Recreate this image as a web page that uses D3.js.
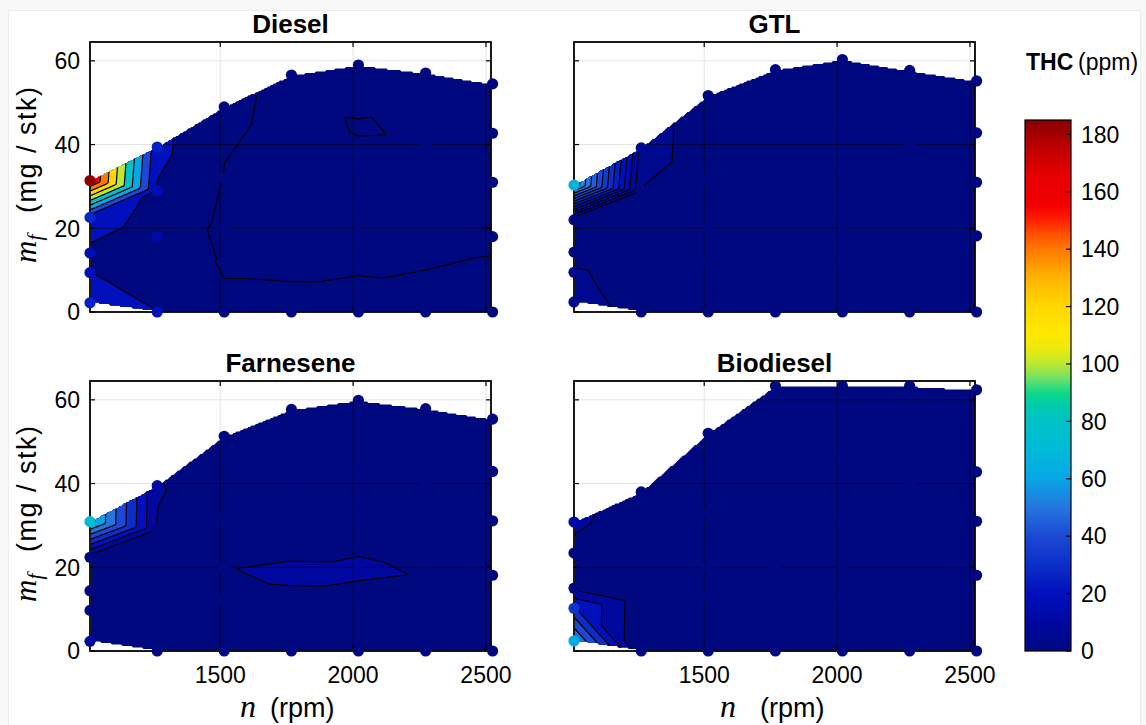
<!DOCTYPE html>
<html><head><meta charset="utf-8">
<script src="https://cdn.jsdelivr.net/npm/d3@7/dist/d3.min.js"></script>
<style>
html,body{margin:0;padding:0;background:#fff;}
svg{display:block;}
text{font-family:"Liberation Sans",Arial,Helvetica,sans-serif;fill:#000;}
</style></head>
<body>
<svg id="chart" width="1146" height="725"></svg>
<script>
// ---------------- data: [speed n (rpm), fuel mf (mg/stk), THC (ppm)] ----------------
const fuelNames = ["Diesel", "GTL", "Farnesene", "Biodiesel"];

const dieselData = [
  [1010, 2.2, 26], [1010, 9.4, 20.3], [1010, 14.1, 17], [1010, 22.6, 28], [1010, 31.4, 185],
  [1263, 0, 20.3], [1263, 11.8, 10], [1263, 18, 12], [1263, 29, 18], [1263, 39.4, 26],
  [1515, 0, 3], [1515, 12, -1.5], [1515, 20, -4], [1515, 32, -0.5], [1515, 49, 2],
  [1768, 0, 3], [1768, 12, -2], [1768, 18, -2.5], [1768, 25, -3], [1768, 38, -3], [1768, 56.6, -2],
  [2020, 0, 3], [2020, 13, -1.5], [2020, 19, -2], [2020, 25, -2], [2020, 34, -2], [2020, 44, 0.5], [2020, 59, -3],
  [2273, 0, 2.5], [2273, 18, -2], [2273, 25, -2], [2273, 40, -0.7], [2273, 57.1, -2],
  [2525, 0, 3], [2525, 18, -1], [2525, 31, -1.5], [2525, 42.7, -1.5], [2525, 54.5, -1.5]
];
const gtlData = [
  [1010, 2.4, 7], [1010, 9.5, 5.8], [1010, 14.3, 2], [1010, 22, 0], [1010, 30.3, 65],
  [1263, 0, 3.4], [1263, 12, 2], [1263, 18, 2.5], [1263, 29, 4.8], [1263, 39.2, 8],
  [1515, 0, 2], [1515, 12, 1.5], [1515, 20, 1.5], [1515, 32, 1.5], [1515, 51.7, 1.9],
  [1768, 0, 1.5], [1768, 12, 1], [1768, 18, 1], [1768, 25, 1], [1768, 38, 1], [1768, 57.9, 1.2],
  [2020, 0, 1.5], [2020, 13, 1], [2020, 19, 1], [2020, 25, 1], [2020, 34, 1], [2020, 44, 1], [2020, 60.3, 1],
  [2273, 0, 1.5], [2273, 18, 1], [2273, 25, 1], [2273, 40, 1], [2273, 57.7, 1],
  [2525, 0, 1.5], [2525, 18.2, 1], [2525, 31, 1], [2525, 42.8, 1], [2525, 55.2, 1]
];
const farneseneData = [
  [1010, 2.3, 10.3], [1010, 9.7, 5], [1010, 14.4, 4.5], [1010, 22.4, 5], [1010, 30.9, 75],
  [1263, 0, 5], [1263, 12, 7], [1263, 18, 8], [1263, 29, 9.5], [1263, 39.5, 10.5],
  [1515, 0, 5], [1515, 12, 8], [1515, 20, 9.8], [1515, 32, 7], [1515, 51.3, 4],
  [1768, 0, 5], [1768, 12, 8.5], [1768, 18, 11], [1768, 25, 9], [1768, 38, 7], [1768, 57.7, 5],
  [2020, 0, 5], [2020, 13, 9], [2020, 19, 10.6], [2020, 25, 9.6], [2020, 34, 8], [2020, 44, 7], [2020, 59.9, 5],
  [2273, 0, 5], [2273, 18, 9.8], [2273, 25, 9], [2273, 40, 7], [2273, 57.9, 5],
  [2525, 0, 5], [2525, 18.1, 8.5], [2525, 31.1, 7], [2525, 42.9, 6], [2525, 55.4, 5]
];
const biodieselData = [
  [1010, 2.4, 62], [1010, 10.2, 32], [1010, 15, 8], [1010, 23.4, 7], [1010, 30.8, 12],
  [1263, 0, 2.5], [1263, 12.6, 3], [1263, 17.6, 3], [1263, 29.4, 4], [1263, 38, 5.7],
  [1515, 0, 2], [1515, 13, 2], [1515, 20, 2], [1515, 33, 2.5], [1515, 52, 3],
  [1768, 0, 2], [1768, 13, 2], [1768, 20, 2], [1768, 30, 2], [1768, 45, 2], [1768, 63.3, 2],
  [2020, 0, 2], [2020, 13, 2], [2020, 20, 2], [2020, 30, 2], [2020, 45, 2], [2020, 63.3, 2],
  [2273, 0, 2], [2273, 18, 2], [2273, 25, 2], [2273, 40, 2], [2273, 63.3, 2],
  [2525, 0, 2], [2525, 18.1, 2], [2525, 31, 2], [2525, 42.8, 2], [2525, 62.4, 2]
];

const dieselLevels = [0, 20, 40, 60, 80, 100, 120, 140, 160, 180];
const gtlLevels = [5, 10, 15, 20, 25, 30, 35, 40, 45, 50, 55, 60];
const farneseneLevels = [10, 20, 30, 40, 50, 60, 70];
const biodieselLevels = [10, 20, 30, 40, 50];

const xTicks = [1500, 2000, 2500];
const yTicks = [0, 20, 40, 60];
const cbTicks = [0, 20, 40, 60, 80, 100, 120, 140, 160, 180];

const cbStopValues = [0, 10, 20, 30, 40, 50, 60, 70, 80, 86, 90, 95, 100, 105, 110, 120, 130, 140, 146, 150, 155, 165, 175, 185];
const cbStopColors = ["#000880", "#0008a0", "#0010bc", "#0c2ec8", "#1c48d4", "#2476de", "#08a6e6", "#00bad8",
  "#00c2c8", "#00cca8", "#10d888", "#70e068", "#bce830", "#e8ea10", "#ffe800", "#ffd800", "#ffb400",
  "#ff7800", "#ff4a00", "#ff2000", "#f40000", "#e80000", "#c00000", "#880000"];

// ---------------- layout ----------------
const svg = d3.select("#chart");
const PW = 401, PH = 270;
const xDomain = [1010, 2519], yDomain = [0, 64.5], cbDomain = [0, 185];
const xScale = d3.scaleLinear().domain(xDomain).range([0, PW]);
const yScale = d3.scaleLinear().domain(yDomain).range([PH, 0]);
const cmap = d3.scaleLinear().domain(cbStopValues).range(cbStopColors).interpolate(d3.interpolateRgb).clamp(true);

const panels = [
  {title: fuelNames[0], data: dieselData, levels: dieselLevels, x: 90, y: 42, showY: true, showX: false},
  {title: fuelNames[1], data: gtlData, levels: gtlLevels, x: 574, y: 42, showY: false, showX: false},
  {title: fuelNames[2], data: farneseneData, levels: farneseneLevels, x: 90, y: 381, showY: true, showX: true, nX: 150, rX: 180},
  {title: fuelNames[3], data: biodieselData, levels: biodieselLevels, x: 574, y: 381, showY: false, showX: true, nX: 146, rX: 186}
];

// page frame
svg.append("rect").attr("width", 1146).attr("height", 725).attr("fill", "#f8f8f8");
svg.append("rect").attr("x", 8.5).attr("y", 10.5).attr("width", 1132).attr("height", 730)
  .attr("fill", "#fff").attr("stroke", "#ececec");

const defs = svg.append("defs");
const S = 1.5, M = 8;

function extend(grid, nx, ny) {
  let cur = Float64Array.from(grid);
  for (let pass = 0; pass < 600; pass++) {
    const next = Float64Array.from(cur);
    let any = false, remaining = false;
    for (let j = 0; j < ny; j++) for (let i = 0; i < nx; i++) {
      const k = j * nx + i;
      if (!isNaN(cur[k])) continue;
      let s = 0, c = 0;
      if (i > 0 && !isNaN(cur[k - 1])) { s += cur[k - 1]; c++; }
      if (i < nx - 1 && !isNaN(cur[k + 1])) { s += cur[k + 1]; c++; }
      if (j > 0 && !isNaN(cur[k - nx])) { s += cur[k - nx]; c++; }
      if (j < ny - 1 && !isNaN(cur[k + nx])) { s += cur[k + nx]; c++; }
      if (c) { next[k] = s / c; any = true; } else remaining = true;
    }
    cur = next;
    if (!remaining || !any) break;
  }
  return cur;
}

panels.forEach((p, idx) => {
  const g = svg.append("g").attr("transform", `translate(${p.x},${p.y})`);
  const pts = p.data.map(d => [xScale(d[0]), yScale(d[1])]);
  const vals = p.data.map(d => d[2]);

  // envelope of the measured map (outer boundary through the outermost points)
  const cols = d3.groups(p.data.map((d, i) => ({n: d[0], m: d[1], i})), d => d.n)
    .sort((a, b) => a[0] - b[0]).map(c => c[1].sort((a, b) => a.m - b.m));
  const env = [];
  cols[0].forEach(d => env.push(pts[d.i]));
  for (let k = 1; k < cols.length - 1; k++) env.push(pts[cols[k][cols[k].length - 1].i]);
  cols[cols.length - 1].slice().reverse().forEach(d => env.push(pts[d.i]));
  for (let k = cols.length - 2; k >= 1; k--) env.push(pts[cols[k][0].i]);

  // linear interpolation on Delaunay triangles
  const delaunay = d3.Delaunay.from(pts);
  const tri = delaunay.triangles;
  const nx = Math.ceil((PW + 2 * M) / S) + 1, ny = Math.ceil((PH + 2 * M) / S) + 1;
  const grid = new Float64Array(nx * ny).fill(NaN);
  for (let t = 0; t < tri.length; t += 3) {
    const a = tri[t], b = tri[t + 1], c = tri[t + 2];
    const [x1, y1] = pts[a], [x2, y2] = pts[b], [x3, y3] = pts[c];
    const cx = (x1 + x2 + x3) / 3, cy = (y1 + y2 + y3) / 3;
    if (!d3.polygonContains(env, [cx, cy])) continue;
    const det = (y2 - y3) * (x1 - x3) + (x3 - x2) * (y1 - y3);
    if (Math.abs(det) < 1e-9) continue;
    const i0 = Math.max(0, Math.floor((Math.min(x1, x2, x3) + M) / S));
    const i1 = Math.min(nx - 1, Math.ceil((Math.max(x1, x2, x3) + M) / S));
    const j0 = Math.max(0, Math.floor((Math.min(y1, y2, y3) + M) / S));
    const j1 = Math.min(ny - 1, Math.ceil((Math.max(y1, y2, y3) + M) / S));
    for (let j = j0; j <= j1; j++) for (let i = i0; i <= i1; i++) {
      const px = -M + i * S, py = -M + j * S;
      const l1 = ((y2 - y3) * (px - x3) + (x3 - x2) * (py - y3)) / det;
      const l2 = ((y3 - y1) * (px - x3) + (x1 - x3) * (py - y3)) / det;
      const l3 = 1 - l1 - l2;
      if (l1 >= -1e-7 && l2 >= -1e-7 && l3 >= -1e-7) grid[j * nx + i] = l1 * vals[a] + l2 * vals[b] + l3 * vals[c];
    }
  }
  const fillGrid = Float64Array.from(grid, v => isNaN(v) ? -1e9 : v);
  const lineGrid = extend(grid, nx, ny);

  const proj = d3.geoIdentity().scale(S).translate([-M - 0.5 * S, -M - 0.5 * S]);
  const path = d3.geoPath(proj);
  const fillC = d3.contours().size([nx, ny]).thresholds([-1e6, ...p.levels])(fillGrid);
  const lineC = d3.contours().size([nx, ny]).thresholds(p.levels)(lineGrid);

  defs.append("clipPath").attr("id", "rect" + idx).append("rect").attr("width", PW).attr("height", PH);
  defs.append("clipPath").attr("id", "hull" + idx).append("path").attr("d", path(fillC[0]));

  // light grid (under fill)
  const gridG = g.append("g").attr("stroke", "#e4e4e4").attr("stroke-width", 1);
  xTicks.forEach(t => gridG.append("line").attr("x1", xScale(t)).attr("x2", xScale(t)).attr("y1", 0).attr("y2", PH));
  yTicks.slice(1).forEach(t => gridG.append("line").attr("y1", yScale(t)).attr("y2", yScale(t)).attr("x1", 0).attr("x2", PW));

  const clipped = g.append("g").attr("clip-path", `url(#rect${idx})`);
  clipped.selectAll("path.band").data(fillC).join("path").attr("class", "band")
    .attr("d", d => path(d))
    .attr("fill", (d, i) => cmap(i === 0 ? 0 : d.value))
    .attr("fill-rule", "evenodd");

  const inner = clipped.append("g").attr("clip-path", `url(#hull${idx})`);
  const dg = inner.append("g").attr("stroke", "#000").attr("stroke-opacity", 0.55).attr("stroke-width", 1);
  xTicks.forEach(t => dg.append("line").attr("x1", xScale(t)).attr("x2", xScale(t)).attr("y1", 0).attr("y2", PH));
  yTicks.slice(1).forEach(t => dg.append("line").attr("y1", yScale(t)).attr("y2", yScale(t)).attr("x1", 0).attr("x2", PW));
  inner.selectAll("path.iso").data(lineC).join("path").attr("class", "iso")
    .attr("d", d => path(d)).attr("fill", "none").attr("stroke", "#000").attr("stroke-width", 1.2)
    .attr("stroke-linejoin", "round");

  // axes box + ticks
  const tk = g.append("g").attr("stroke", "#000").attr("stroke-width", 1.2);
  xTicks.forEach(t => {
    tk.append("line").attr("x1", xScale(t)).attr("x2", xScale(t)).attr("y1", PH).attr("y2", PH - 5);
    tk.append("line").attr("x1", xScale(t)).attr("x2", xScale(t)).attr("y1", 0).attr("y2", 5);
  });
  yTicks.forEach(t => {
    tk.append("line").attr("y1", yScale(t)).attr("y2", yScale(t)).attr("x1", 0).attr("x2", 5);
    tk.append("line").attr("y1", yScale(t)).attr("y2", yScale(t)).attr("x1", PW).attr("x2", PW - 5);
  });
  g.append("rect").attr("width", PW).attr("height", PH).attr("fill", "none").attr("stroke", "#000").attr("stroke-width", 1.8);

  // title
  g.append("text").attr("x", PW / 2).attr("y", -9).attr("text-anchor", "middle")
    .attr("font-size", 26).attr("font-weight", "bold").text(p.title);

  if (p.showY) {
    yTicks.forEach(t => g.append("text").attr("x", -10).attr("y", yScale(t)).attr("dy", "0.36em")
      .attr("text-anchor", "end").attr("font-size", 23).text(t));
    const yl = svg.append("g").attr("transform", `translate(36,${p.y + PH / 2}) rotate(-90)`);
    yl.append("text").attr("x", -86).attr("y", 0)
      .style("font-family", "'Liberation Serif','Times New Roman',serif").style("font-style", "italic")
      .attr("font-size", 31).text("m")
      .append("tspan").attr("font-size", 21).attr("dy", 6).text("f");
    yl.append("text").attr("x", -36).attr("y", 0).attr("font-size", 27)
      .attr("textLength", 126).attr("lengthAdjust", "spacing").text("(mg / stk)");
  }
  if (p.showX) {
    xTicks.forEach(t => g.append("text").attr("x", xScale(t)).attr("y", PH + 32)
      .attr("text-anchor", "middle").attr("font-size", 23).text(t));
    g.append("text").attr("x", p.nX).attr("y", PH + 66)
      .style("font-family", "'Liberation Serif','Times New Roman',serif").style("font-style", "italic")
      .attr("font-size", 32).text("n");
    g.append("text").attr("x", p.rX).attr("y", PH + 66).attr("font-size", 27).text("(rpm)");
  }

  // measurement points: low readings take the colour of their contour band
  const bandLevel = v => { let b = 0; p.levels.forEach(l => { if (v >= l) b = l; }); return b; };
  g.append("g").selectAll("circle").data(p.data).join("circle")
    .attr("cx", d => xScale(d[0])).attr("cy", d => yScale(d[1])).attr("r", 5.6)
    .attr("fill", d => cmap(d[2] >= 12 ? d[2] : bandLevel(d[2])));
});

// ---------------- colorbar ----------------
const CB = {x: 1025, y: 120, w: 46, h: 531};
const cbScale = d3.scaleLinear().domain(cbDomain).range([CB.y + CB.h, CB.y]);
const grad = defs.append("linearGradient").attr("id", "cbgrad").attr("x1", 0).attr("y1", 1).attr("x2", 0).attr("y2", 0);
cbStopValues.forEach((v, i) => grad.append("stop").attr("offset", v / cbDomain[1]).attr("stop-color", cbStopColors[i]));
svg.append("rect").attr("x", CB.x).attr("y", CB.y).attr("width", CB.w).attr("height", CB.h)
  .attr("fill", "url(#cbgrad)").attr("stroke", "#000").attr("stroke-width", 1.2);
cbTicks.forEach(t => {
  svg.append("line").attr("x1", CB.x + CB.w).attr("x2", CB.x + CB.w - 5)
    .attr("y1", cbScale(t)).attr("y2", cbScale(t)).attr("stroke", "#000").attr("stroke-width", 1.2);
  svg.append("text").attr("x", CB.x + CB.w + 10).attr("y", cbScale(t)).attr("dy", "0.36em")
    .attr("font-size", 23).text(t);
});
const cbt = svg.append("text").attr("x", 1026).attr("y", 70);
cbt.append("tspan").attr("font-weight", "bold").attr("font-size", 23).text("THC");
cbt.append("tspan").attr("x", 1078).attr("font-size", 23).text("(ppm)");
</script>
</body></html>
